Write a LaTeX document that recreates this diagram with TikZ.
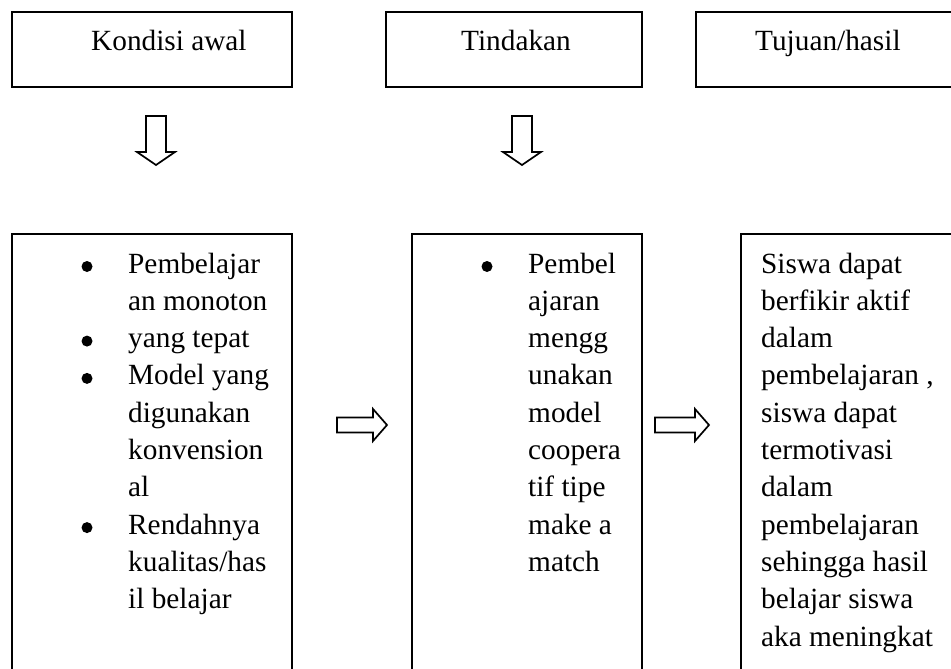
\documentclass[tikz,border=0pt]{standalone}
\usepackage{fontspec}
\setmainfont{Liberation Serif}
\begin{document}
\begin{tikzpicture}[x=1pt,y=-1pt,
  box/.style={draw=black,line width=1.8pt,inner sep=0pt},
  blockarrow/.style={draw=black,line width=1.7pt,fill=white,line join=miter},
  txt/.style={inner sep=0pt,anchor=base west,font=\fontsize{29.3}{37.3}\selectfont},
  dotb/.style={circle,fill=black,inner sep=0pt,minimum size=11pt}]
\useasboundingbox (0,0) rectangle (951,669);
\clip (0,0) rectangle (951,669);
% top boxes
\node[box,minimum width=280pt,minimum height=75pt] (h1) at (152,49.5) {};
\node[box,minimum width=256pt,minimum height=75pt] (h2) at (514,49.5) {};
\node[box,minimum width=274pt,minimum height=75pt] (h3) at (833,49.5) {};
\node[txt] (t1) at (91,51) {Kondisi awal};
\node[txt] (t2) at (461,51) {Tindakan};
\node[txt] (t3) at (755,51) {Tujuan/hasil};
% big boxes
\node[box,minimum width=280pt,minimum height=466pt] (b1) at (152,467) {};
\node[box,minimum width=230pt,minimum height=466pt] (b2) at (527,467) {};
\node[box,minimum width=229pt,minimum height=466pt] (b3) at (855.5,467) {};
% down arrows
\foreach \cx/\n in {156/d1,522/d2}{
  \draw[blockarrow] (\cx-10,116) -- (\cx+10,116) -- (\cx+10,152) -- (\cx+19,152)
    -- (\cx,165) -- (\cx-19,152) -- (\cx-10,152) -- cycle;
}
% right arrows
\foreach \xa/\xb/\xc in {337/373/387,655/695/709}{
  \draw[blockarrow] (\xa,417.5) -- (\xb,417.5) -- (\xb,409) -- (\xc,425)
    -- (\xb,441) -- (\xb,432.5) -- (\xa,432.5) -- cycle;
}
% box 1 text
\foreach \s [count=\i from 0] in {Pembelajar,an monoton,yang tepat,Model yang,digunakan,konvension,al,Rendahnya,kualitas/has,il belajar}{
  \node[txt] (l1-\i) at (128,273+37.3*\i) {\s};
}
\foreach \i in {0,2,3,7}{
  \node[dotb] (p1-\i) at (87,266.5+37.3*\i) {};
}
% box 2 text
\foreach \s [count=\i from 0] in {Pembel,ajaran,mengg,unakan,model,coopera,tif tipe,make a,match}{
  \node[txt] (l2-\i) at (528,273+37.3*\i) {\s};
}
\node[dotb] (p2-0) at (487,266.5) {};
% box 3 text
\foreach \s [count=\i from 0] in {Siswa dapat,berfikir aktif,dalam,{pembelajaran ,},siswa dapat,termotivasi,dalam,pembelajaran,sehingga hasil,belajar siswa,aka meningkat}{
  \node[txt] (l3-\i) at (761,273+37.3*\i) {\s};
}
\end{tikzpicture}
\end{document}
